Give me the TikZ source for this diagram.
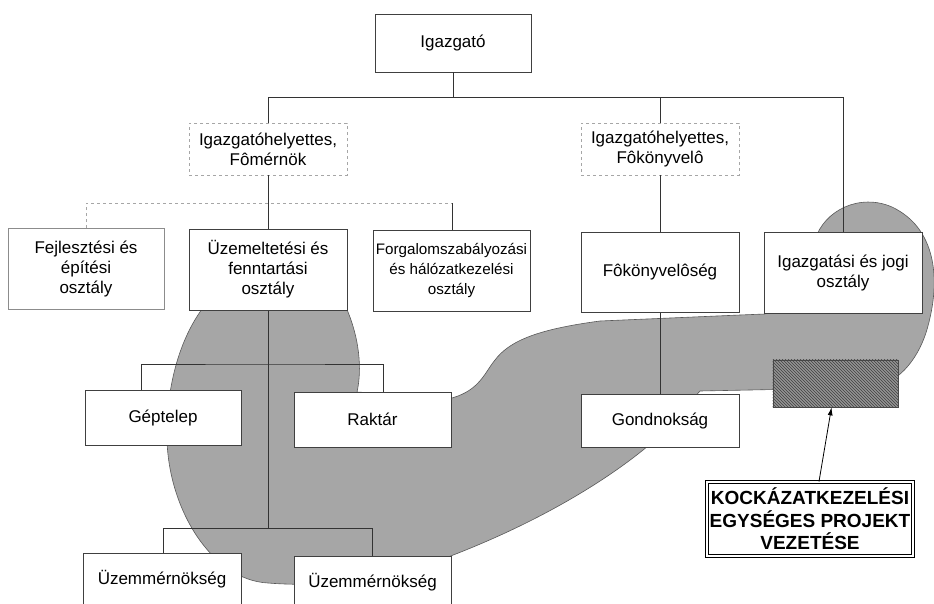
\documentclass[tikz,border=0pt]{standalone}
\usepackage{fontspec}
\setmainfont{Liberation Sans}
\usetikzlibrary{arrows.meta,patterns,calc}
\begin{document}
\begin{tikzpicture}[x=1pt,y=-1pt,
  box/.style={draw=black!75,line width=0.7pt,fill=white,align=center,inner sep=2pt,
    font=\fontsize{17}{20}\selectfont},
  faintbox/.style={box,draw=black!35,dashed},
  conn/.style={draw=black!80,line width=0.6pt},
  faintconn/.style={draw=black!35,line width=0.6pt,dashed},
  blobstyle/.style={fill=gray!70,draw=black!65,line width=0.6pt},
]
\useasboundingbox (0,0) rectangle (934,603);
\fill[white] (0,0) rectangle (934,603);

% grey area
\path[blobstyle] (205,305)
  .. controls (178,340) and (166,390) .. (167,440)
  .. controls (169,510) and (212,580) .. (268,583)
  .. controls (330,588) and (395,578) .. (448,557)
  .. controls (545,520) and (615,475) .. (655,440)
  -- (700,391) -- (800,389) -- (880,386)
  .. controls (905,377) and (922,352) .. (929,322)
  .. controls (940,278) and (936,228) .. (892,207)
  .. controls (860,193) and (824,210) .. (815,240)
  -- (765,314) -- (740,315) -- (600,321)
  .. controls (540,329) and (510,340) .. (495,360)
  .. controls (485,372) and (480,390) .. (452,398)
  -- (357,392)
  .. controls (362,370) and (360,338) .. (345,305)
  -- cycle;

% nodes (positions)
\node[box,minimum width=156,minimum height=58] (igazgato) at (453,43) {Igazgató};
\node[faintbox,minimum width=158,minimum height=52] (h1) at (268,149) {Igazgatóhelyettes,\\Fômérnök};
\node[faintbox,minimum width=158,minimum height=52] (h2) at (660,149) {Igazgatóhelyettes,\\Fôkönyvelô};

% connectors
\coordinate (b1) at (453,97);
\draw[conn] (igazgato.south) -- (b1);
\draw[conn] (h1.north) |- (b1);
\draw[conn] (b1) -| (843,232);
\draw[conn] (h2.north) -- (h2.north |- b1);
\draw[conn] (h2.south) -- (660,232);
\draw[conn] (660,312) -- (660,394);
\draw[conn] (h1.south) -- (268,229);
\coordinate (b2) at (268,203);
\draw[faintconn] (86,228) |- (b2) -- (452,203);
\draw[conn] (452,203) -- (452,230);
\coordinate (b3) at (268,364);
\coordinate (b4) at (268,528);
\draw[conn] (268,310) -- (b4);
\draw[conn] (141,390) |- (b3) -| (383,392);
\draw[conn] (163,553) |- (b4) -| (372,556);

% boxes
\node[box,draw=black!45,minimum width=156,minimum height=81] (fejl) at (86,268.5) {Fejlesztési és\\építési\\osztály};
\node[box,minimum width=158,minimum height=81] (uzem) at (268,269.5) {Üzemeltetési és\\fenntartási\\osztály};
\node[box,minimum width=157,minimum height=81,font=\fontsize{15.2}{20}\selectfont] (forg) at (451.5,270.5) {Forgalomszabályozási\\és hálózatkezelési\\osztály};
\node[box,minimum width=158,minimum height=80] (fokonyv) at (660,272) {Fôkönyvelôség};
\node[box,minimum width=158,minimum height=81] (igjog) at (843,272.5) {Igazgatási és jogi\\osztály};
\node[box,minimum width=156,minimum height=55] (geptelep) at (163,417.5) {Géptelep};
\node[box,minimum width=157,minimum height=55] (raktar) at (372.5,419.5) {Raktár};
\node[box,minimum width=158,minimum height=53] (gondnok) at (660,420.5) {Gondnokság};
\node[box,minimum width=158,minimum height=52] (uzm1) at (162,579) {Üzemmérnökség};
\node[box,minimum width=157,minimum height=52] (uzm2) at (372.5,582) {Üzemmérnökség};

% hatched unit
\node[draw=black!70,line width=0.6pt,fill=black!42,minimum width=125,minimum height=47,inner sep=0pt] (hatch) at (835.5,383.5) {};
\fill[pattern=north west lines,pattern color=black!75] (hatch.south west) rectangle (hatch.north east);

\node[draw=black,line width=1pt,double=white,double distance=1.3pt,fill=white,align=center,
  minimum width=206,minimum height=74,inner sep=2pt,
  font=\fontsize{19}{22.5}\bfseries\selectfont] (kock) at (810,519) {KOCKÁZATKEZELÉSI\\EGYSÉGES PROJEKT\\VEZETÉSE};

\draw[line width=0.8pt,-{Latex[length=8pt,width=5pt]}] ([xshift=9]kock.north) -- ([xshift=-4]hatch.south);
\end{tikzpicture}
\end{document}
